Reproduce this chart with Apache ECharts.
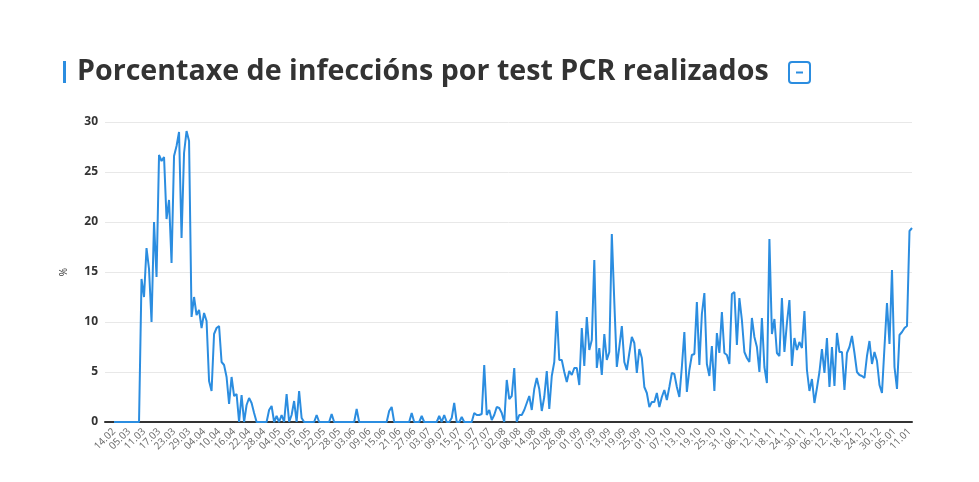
<!DOCTYPE html>
<html><head><meta charset="utf-8">
<script src="https://cdn.jsdelivr.net/npm/echarts@6/dist/echarts.min.js"></script>
<style>html,body{margin:0;padding:0;background:#fff}#c{width:979px;height:482px}</style>
</head><body><div id="c"></div><script>
const titleText = 'Porcentaxe de infeccións por test PCR realizados';
const yAxisName = '%';
const leadDates = ['14.02','29.02','01.03','02.03','03.03','04.03'];
const values = [
0,0,0,0,0,0,0,0,0,0,0,
14.3,12.5,17.4,15.3,10.0,20.0,14.5,26.7,26.1,26.5,
20.3,22.2,15.9,26.6,27.6,29.0,18.4,26.9,29.1,28.1,
10.5,12.5,10.7,11.2,9.4,10.9,10.1,4.1,3.1,8.8,
9.4,9.6,6.0,5.7,4.5,1.8,4.5,2.6,2.8,0,
2.7,0,1.7,2.4,1.9,0.9,0,0,0,0,
0,1.2,1.6,0,0.6,0,0.7,0,2.8,0,
0.7,2.1,0,3.1,0.4,0,0,0,0,0,
0.7,0,0,0,0,0,0.8,0,0,0,
0,0,0,0,0,0,1.3,0,0,0,
0,0,0,0,0,0,0,0,0,1.1,
1.5,0,0,0,0,0,0,0,0.9,0,
0,0,0.6,0,0,0,0,0,0,0.6,
0,0.7,0,0,0.4,1.9,0,0,0.5,0,
0,0,0,0.9,0.7,0.7,0.8,5.7,0.7,1.2,
0.2,0.7,1.5,1.4,0.9,0,4.2,2.3,2.6,5.4,
0,0.7,0.7,1.2,1.9,2.6,1.2,3.3,4.4,3.3,
1.1,2.5,5.1,1.3,4.6,6.0,11.1,6.2,6.2,5.0,
4.0,5.1,4.7,5.4,5.4,3.7,9.4,5.6,10.5,7.2,
8.2,16.2,5.4,7.4,4.7,8.8,6.2,7.0,18.8,12.0,
5.5,7.5,9.6,6.0,5.2,6.9,8.5,7.9,4.9,7.3,
6.4,3.5,2.9,1.5,2.0,2.0,2.9,1.5,2.5,3.2,
2.2,3.5,4.9,4.8,3.5,2.5,5.5,9.0,3.0,5.2,
6.7,6.8,12.0,5.7,10.8,12.9,5.8,4.6,7.6,3.1,
8.9,6.9,11.0,6.9,6.7,5.8,12.8,13.0,7.7,12.4,
10.2,7.0,6.4,6.0,10.4,8.5,7.5,5.0,10.4,5.5,
3.9,18.3,8.8,10.3,6.9,6.6,12.4,7.0,9.9,12.2,
5.6,8.4,7.2,8.0,7.4,11.1,5.2,3.1,4.3,1.9,
3.4,5.0,7.3,4.9,8.4,3.5,7.5,3.6,8.9,7.0,
7.0,3.2,6.9,7.5,8.6,6.9,5.0,4.7,4.6,4.4,
6.6,8.1,5.8,7.0,6.1,3.7,2.9,7.5,11.9,7.8,
15.2,5.5,3.3,8.7,9.0,9.4,9.6,19.1,19.4
];
const yMin = 0, yMax = 30, yStep = 5;
const labelEvery = 6;

// categories: irregular first dates, then daily from 05.03.2020
const pad = n => (n < 10 ? '0' : '') + n;
const dates = leadDates.slice();
const d = new Date(2020, 2, 5);
while (dates.length < values.length) {
  dates.push(pad(d.getDate()) + '.' + pad(d.getMonth() + 1));
  d.setDate(d.getDate() + 1);
}
const labelIdx = dates.map((_, i) => i).filter(i => i % labelEvery === 0);

const BLUE = '#2b8de0';
const FONT = '"Open Sans", "Noto Sans", sans-serif';

// fit title width
const cv = document.createElement('canvas').getContext('2d');
cv.font = 'bold 100px "Open Sans"';
const titleFs = Math.round(100 * 692 / cv.measureText(titleText).width * 10) / 10;

const chart = echarts.init(document.getElementById('c'), null, {renderer: 'canvas'});
chart.setOption({
  animation: false,
  grid: {left: 105, right: 67, top: 122, bottom: 60, containLabel: false},
  xAxis: {
    type: 'value', min: -3.6, max: values.length - 1,
    axisLine: {show: true, onZero: true, lineStyle: {color: '#333', width: 2}},
    axisTick: {show: false},
    splitLine: {show: false},
    axisLabel: {
      customValues: labelIdx,
      formatter: v => dates[Math.round(v)] || '',
      rotate: 45, fontSize: 10, color: '#666', fontFamily: FONT, margin: 8
    }
  },
  yAxis: {
    type: 'value', min: yMin, max: yMax, interval: yStep,
    name: yAxisName, nameLocation: 'middle', nameGap: 36, nameRotate: 90,
    nameTextStyle: {fontSize: 10, color: '#333', fontFamily: FONT},
    axisLine: {show: false}, axisTick: {show: false},
    axisLabel: {fontSize: 12, fontWeight: 'bold', color: '#333', fontFamily: FONT, margin: 7},
    splitLine: {lineStyle: {color: '#e8e8e8', width: 1}}
  },
  series: [{
    type: 'line',
    data: values.map((v, i) => [i, v]),
    showSymbol: false,
    lineStyle: {color: BLUE, width: 2},
    itemStyle: {color: BLUE}
  }],
  graphic: [
    {type: 'rect', shape: {x: 63, y: 61, width: 3, height: 22}, style: {fill: BLUE}},
    {type: 'text', x: 77, y: 72, style: {text: titleText, fontSize: titleFs, fontWeight: 'bold', fontFamily: FONT, fill: '#333', verticalAlign: 'middle', align: 'left'}},
    {type: 'rect', shape: {x: 789, y: 62, width: 21, height: 21, r: 3}, style: {fill: 'none', stroke: BLUE, lineWidth: 2}},
    {type: 'rect', shape: {x: 796, y: 71.5, width: 7, height: 2}, style: {fill: BLUE}}
  ]
});
</script></body></html>
